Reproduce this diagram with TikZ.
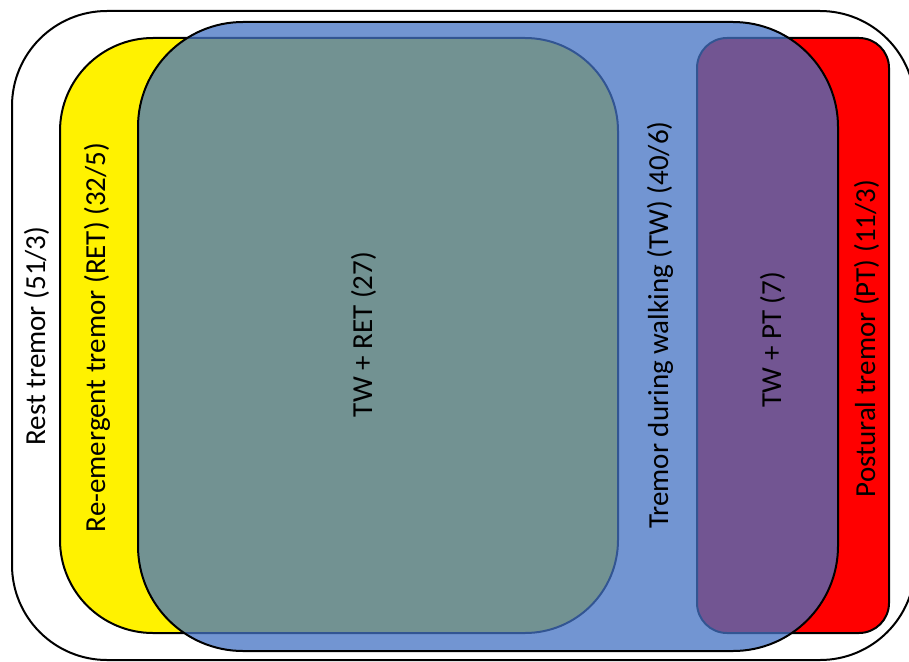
\documentclass[tikz,border=0pt]{standalone}
\usepackage{fontspec}
\setmainfont{Carlito}
\definecolor{twblue}{HTML}{4472C4}
\begin{document}
\begin{tikzpicture}[x=1pt,y=-1pt,
  setbox/.style={draw=black, line width=2pt},
  setlabel/.style={rotate=90, anchor=base, inner sep=0pt,
    font=\fontsize{29}{34}\selectfont}]
\useasboundingbox (0,0) rectangle (909,661);
\clip (0,0) rectangle (909,661);
\fill[white] (0,0) rectangle (909,661);
% rest tremor (outer set)
\draw[setbox, fill=white, rounded corners=95pt] (12,11) rectangle (915,660);
% re-emergent tremor
\draw[setbox, fill=yellow, rounded corners=93pt] (60,38) rectangle (618,633);
% postural tremor
\draw[setbox, fill=red, rounded corners=30pt] (697,38) rectangle (889,633);
% tremor during walking, translucent on top
\draw[setbox, fill=twblue, fill opacity=0.75, rounded corners=105pt] (138,22) rectangle (838,651);
% labels
\node[setlabel] (rest)  at (45,336)   {Rest tremor (51/3)};
\node[setlabel] (ret)   at (105,337.5) {Re-emergent tremor (RET) (32/5)};
\node[setlabel] (twret) at (372,334.5) {TW + RET (27)};
\node[setlabel] (tw)    at (668,325)  {Tremor during walking (TW) (40/6)};
\node[setlabel] (twpt)  at (781,339.5) {TW + PT (7)};
\node[setlabel] (pt)    at (875,338.5) {Postural tremor (PT) (11/3)};
\end{tikzpicture}
\end{document}
